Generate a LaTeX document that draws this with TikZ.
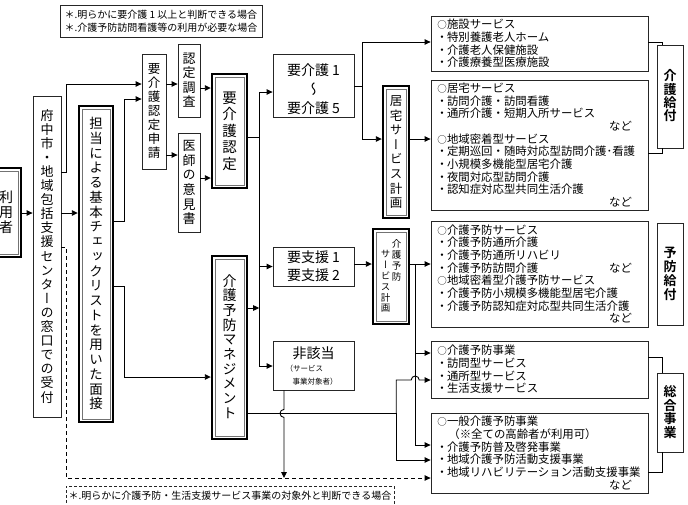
\documentclass[tikz,border=0pt]{standalone}
\usepackage{fontspec}
\setmainfont{Noto Sans CJK JP}[BoldFont={Noto Sans CJK JP Bold}]
\newfontfamily\tatefont{Noto Sans CJK JP}[RawFeature=+vert,BoldFont={Noto Sans CJK JP Bold}]
\usetikzlibrary{arrows.meta, positioning, calc}

% 縦書き（1文字ずつ積む）
\makeatletter
\newdimen\tatep
\newcommand\tate[2]{\vbox{\offinterlineskip\tatep=#1\relax\tate@#2\@nil}}
\def\tate@#1{\ifx#1\@nil\else\hbox to 1em{\hss\vrule height .82\tatep depth .18\tatep width 0pt\relax #1\hss}\expandafter\tate@\fi}
\makeatother
\newcommand\nado{\leavevmode\hbox to \hsize{\hfil など\kern10pt}}
\newcommand\bul{\leavevmode\hbox to 10pt{\hss・\hss}}
\newcommand\maru{\leavevmode\hbox to 10pt{\hss\fontsize{9.5}{9.5}\selectfont ○\hss}}

\tikzstyle{panel}      = [draw=black!85, line width=0.8pt, inner sep=0pt]
\tikzstyle{dpanel}     = [draw=black, line width=2.4pt, inner sep=0pt,
    path picture={\draw[black!55, line width=0.9pt]
        ([shift={(3pt,-3pt)}]path picture bounding box.north west) rectangle
        ([shift={(-3pt,3pt)}]path picture bounding box.south east);}]
\tikzstyle{listbox}    = [panel, minimum width=217, text width=205, align=left, font=\fontsize{11.4}{12.7}\selectfont]
\tikzstyle{notebox}    = [panel, align=left, font=\fontsize{10}{13}\selectfont]
\tikzstyle{plainedge}  = [line width=0.9pt]
\tikzstyle{diredge}    = [line width=0.9pt, -{Triangle[length=6pt,width=5.5pt]}]

\begin{document}
\begin{tikzpicture}[x=1pt, y=-1pt]
    \useasboundingbox (0,0) rectangle (688,504);

    % 注記
    \node[notebox, minimum width=202, minimum height=32] (note1) at (161,21)
        {＊.明らかに要介護 1 以上と判断できる場合\\＊.介護予防訪問看護等の利用が必要な場合};
    \node[notebox, dash pattern=on 3pt off 2pt, minimum width=328, minimum height=20] (note2) at (230,496)
        {＊.明らかに介護予防・生活支援サービス事業の対象外と判断できる場合};

    % 受付・面接
    \node[dpanel, minimum width=30, minimum height=89, font={\tatefont\fontsize{14}{14}\selectfont}] (riyo) at (6,212.5)
        {\tate{15pt}{利用者}};
    \node[panel, minimum width=28, minimum height=321, font={\tatefont\fontsize{13}{13}\selectfont}] (madoguchi) at (47,256.5)
        {\tate{14.1pt}{府中市・地域包括支援センターの窓口での受付}};
    \node[dpanel, minimum width=34, minimum height=316, font={\tatefont\fontsize{13.5}{13.5}\selectfont}] (mensetsu) at (96,264)
        {\tate{14.75pt}{担当による基本チェックリストを用いた面接}};

    % 要介護認定
    \node[panel, minimum width=24, minimum height=115, font={\tatefont\fontsize{12.5}{12.5}\selectfont}] (shinsei) at (154,111.5)
        {\tate{14pt}{要介護認定申請}};
    \node[panel, minimum width=22, minimum height=73, font={\tatefont\fontsize{13}{13}\selectfont}] (chosa) at (189,80.5)
        {\tate{14.5pt}{認定調査}};
    \node[panel, minimum width=22, minimum height=99, font={\tatefont\fontsize{13}{13}\selectfont}] (ishi) at (189,182.5)
        {\tate{14.7pt}{医師の意見書}};
    \node[dpanel, minimum width=35, minimum height=114, font={\tatefont\fontsize{14.5}{14.5}\selectfont}] (nintei) at (229.5,131)
        {\tate{16.6pt}{要介護認定}};
    \node[dpanel, minimum width=35, minimum height=183, font={\tatefont\fontsize{14}{14}\selectfont}] (yobo) at (229.5,347.5)
        {\tate{14.7pt}{介護予防マネジメント}};

    % 判定結果
    \node[panel, minimum width=81, minimum height=63, align=center, font={\fontsize{14}{19}\selectfont}] (yokaigo) at (313.5,85.5)
        {\rule{0pt}{20pt}要介護 1\\{\tatefont 〜}\\要介護 5};
    \node[panel, minimum width=81, minimum height=39, align=center, font={\fontsize{14}{18}\selectfont}] (yoshien) at (313.5,266.5)
        {要支援 1\\要支援 2};
    \node[panel, minimum width=81, minimum height=49, align=center, font={\fontsize{7.5}{13}\selectfont}] (higaito) at (313.5,365.5)
        {{\fontsize{14}{13}\selectfont 非該当}\\\hbox to 56pt{（サービス\hfil}\\\hbox to 56pt{\hskip7pt 事業対象者）\hfil}};

    % 計画
    \node[dpanel, minimum width=26, minimum height=132, font={\tatefont\fontsize{12.5}{12.5}\selectfont}] (kyotakukeikaku) at (396,152)
        {\tate{14.6pt}{居宅サービス計画}};
    \node[dpanel, minimum width=36, minimum height=95, font={\tatefont\fontsize{9.5}{9.5}\selectfont}] (yobokeikaku) at (391,276.5)
        {\hbox{\vbox to 75pt{\vskip10pt\tate{10.8pt}{サービス計画}\vfil}\hskip1.5pt\vbox to 75pt{\tate{10.8pt}{介護予防}\vfil}}};

    % サービス一覧
    \node[listbox, minimum height=55] (shisetsu) at (539.5,43.5)
        {\maru 施設サービス\\\bul 特別養護老人ホーム\\\bul 介護老人保健施設\\\bul 介護療養型医療施設};
    \node[listbox, minimum height=130] (kyotaku) at (539.5,145)
        {\maru 居宅サービス\\\bul 訪問介護・訪問看護\\\bul 通所介護・短期入所サービス\\\nado\\
         \maru 地域密着型サービス\\\bul 定期巡回・随時対応型訪問介護･看護\\\bul 小規模多機能型居宅介護\\
         \bul 夜間対応型訪問介護\\\bul 認知症対応型共同生活介護\\\nado};
    \node[listbox, minimum height=106] (yoboservice) at (539.5,274)
        {\maru 介護予防サービス\\\bul 介護予防通所介護\\\bul 介護予防通所リハビリ\\\bul 介護予防訪問介護\hskip 0pt plus 1filll など\kern10pt\\
         \maru 地域密着型介護予防サービス\\\bul 介護予防小規模多機能型居宅介護\\
         \bul 介護予防認知症対応型共同生活介護\\\nado};
    \node[listbox, minimum height=57] (yobojigyo) at (539.5,369.5)
        {\maru 介護予防事業\\\bul 訪問型サービス\\\bul 通所型サービス\\\bul 生活支援サービス};
    \node[listbox, minimum height=80] (ippan) at (539.5,453)
        {\maru 一般介護予防事業\\　（※全ての高齢者が利用可）\\\bul 介護予防普及啓発事業\\
         \bul 地域介護予防活動支援事業\\\bul 地域リハビリテーション活動支援事業\\\nado};

    % 給付の区分
    \node[panel, minimum width=26, minimum height=103, font={\tatefont\bfseries\fontsize{13}{13}\selectfont}] (kaigokyufu) at (670,96.5)
        {\tate{13pt}{介護給付}};
    \node[panel, minimum width=26, minimum height=102, font={\tatefont\bfseries\fontsize{13}{13}\selectfont}] (yobokyufu) at (670,274)
        {\tate{13.75pt}{予防給付}};
    \node[panel, minimum width=26, minimum height=79, font={\tatefont\bfseries\fontsize{13}{13}\selectfont}] (sogo) at (670,412.5)
        {\tate{13.75pt}{総合事業}};

    % 受付から面接・申請へ
    \draw[diredge] (riyo.east |- 0,213) -- (madoguchi.west |- 0,213);
    \draw[diredge] (madoguchi.east |- 0,213) -- (mensetsu.west |- 0,213);
    \draw[diredge] (madoguchi.east |- 0,172) -- ++(5,0) |- (shinsei.west |- 0,84);
    \draw[diredge] (mensetsu.east |- 0,221) -- ++(10,0) |- (shinsei.west |- 0,99);
    \draw[diredge] (mensetsu.east |- 0,286) -- ++(10,0) |- (yobo.west |- 0,377);

    % 認定の流れ
    \draw[diredge] (shinsei.east |- 0,84) -- (chosa.west |- 0,84);
    \draw[diredge] (shinsei.east |- 0,155) -- (ishi.west |- 0,155);
    \draw[diredge] (chosa.east |- 0,88) -- (nintei.west |- 0,88);
    \draw[diredge] (ishi.east |- 0,178) -- (nintei.west |- 0,178);

    % 判定結果への分岐
    \draw[plainedge] (nintei.east |- 0,137) -- ++(11,0) coordinate (jn);
    \draw[diredge] (jn) |- (yokaigo.west |- 0,92);
    \draw[diredge] (jn) |- (yoshien.west);
    \draw[diredge] (jn) |- (higaito.west |- 0,366);
    \draw[diredge] (yobo.east |- 0,308) -- (jn |- 0,308);

    % 要介護から介護給付へ
    \draw[plainedge] (yokaigo.east |- 0,86) -- ++(8,0) coordinate (jk);
    \draw[diredge] (jk) |- (shisetsu.west |- 0,42);
    \draw[diredge] (jk) |- (kyotakukeikaku.west |- 0,139);
    \draw[diredge] (kyotakukeikaku.east |- 0,139) -- (kyotaku.west |- 0,139);

    % 要支援から予防給付・総合事業へ
    \draw[diredge] (yoshien.east |- 0,264) -- (yobokeikaku.west |- 0,264);
    \draw[diredge] (yobokeikaku.east |- 0,264) -- (yoboservice.west |- 0,264);
    \draw[plainedge] (yobokeikaku.east |- 0,264) -- ++(5,0) coordinate (jy);
    \draw[diredge] (jy) |- (yobojigyo.west |- 0,353);
    \draw[diredge] (jy) |- (ippan.west |- 0,445);

    % マネジメントから総合事業へ
    \draw[plainedge] (yobo.east |- 0,413) -- ++(148,0) coordinate (jm);
    \draw[diredge] (jm) -- (jm |- 0,380) -- ($(jy |- 0,380)+(-4,0)$)
        arc[start angle=180, end angle=0, radius=4pt] -- (yobojigyo.west |- 0,380);
    \draw[diredge] (jm) |- (ippan.west |- 0,460);

    % 対象外の場合
    \coordinate (dj) at (284,478);
    \draw[diredge, dash pattern=on 4pt off 3pt] (madoguchi.east |- 0,247) -- ++(5,0) |- (ippan.west |- dj);
    \draw[diredge] (higaito.south -| dj) -- ++(0,19)
        arc[start angle=90, end angle=270, radius=4pt] -- (dj);

    % 給付区分への括り
    \draw[plainedge] (shisetsu.east |- 0,42) -| ([xshift=6pt]kaigokyufu.north west);
    \draw[plainedge] (kyotaku.east |- 0,153) -| ([xshift=6pt]kaigokyufu.south west);
    \draw[plainedge] (yobojigyo.east |- 0,357) -| ([xshift=6pt]sogo.north west);
    \draw[plainedge] (ippan.east |- 0,472) -| ([xshift=6pt]sogo.south west);

\end{tikzpicture}
\end{document}
